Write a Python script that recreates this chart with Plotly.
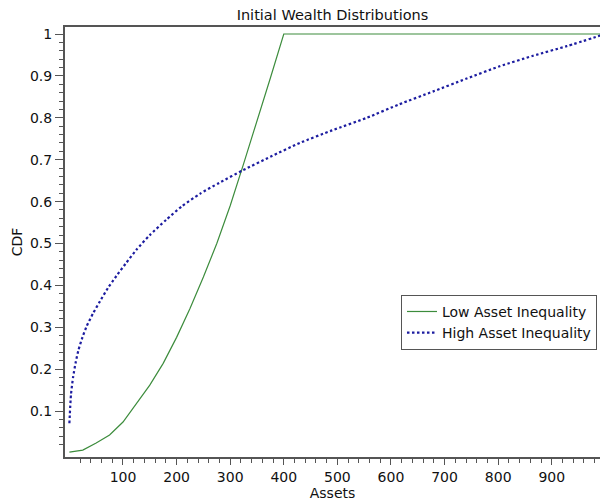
import plotly.graph_objects as go

# Low asset inequality CDF
low_x = [0, 25, 50, 75, 100, 125, 150, 175, 200, 225, 250, 275, 300, 325, 350, 375, 400, 1000]
low_y = [0.002, 0.007, 0.024, 0.043, 0.074, 0.117, 0.162, 0.214, 0.276, 0.345, 0.42, 0.50,
         0.59, 0.69, 0.79, 0.895, 1.0, 1.0]

# High asset inequality CDF
high_x = [0, 3, 7, 12, 17, 24, 32, 44, 57, 72, 88, 105, 125, 150, 181, 210, 244, 280, 324,
          375, 430, 490, 555, 615, 679, 740, 803, 865, 928, 1000]
high_y = [0.071, 0.14, 0.182, 0.218, 0.246, 0.275, 0.302, 0.333, 0.362, 0.394, 0.423, 0.452,
          0.485, 0.52, 0.557, 0.589, 0.619, 0.645, 0.675, 0.707, 0.74, 0.77, 0.80, 0.832,
          0.863, 0.893, 0.923, 0.948, 0.971, 1.0]

x_ticks = [100, 200, 300, 400, 500, 600, 700, 800, 900]
y_ticks = [0.1, 0.2, 0.3, 0.4, 0.5, 0.6, 0.7, 0.8, 0.9, 1]

FONT = "DejaVu Sans"
AX = "#555555"

fig = go.Figure()
fig.add_trace(go.Scatter(x=low_x, y=low_y, mode="lines", name="Low Asset Inequality",
                         line=dict(color="#3c8c3c", width=1.2)))
fig.add_trace(go.Scatter(x=high_x, y=high_y, mode="lines", name="High Asset Inequality",
                         line=dict(color="#1c1ca0", width=2.2, dash="2.5px,2.5px",
                                   shape="spline", smoothing=0.6)))

fig.update_layout(
    width=600, height=502,
    margin=dict(l=65, r=0, t=27, b=45, autoexpand=False),
    paper_bgcolor="white", plot_bgcolor="white",
    font=dict(family=FONT, size=14, color="#111111"),
    title=dict(text="Initial Wealth Distributions", x=0.5, xref="paper", y=0.97, yanchor="middle",
               font=dict(family=FONT, size=14.5, color="#111111")),
    legend=dict(x=0.628, y=0.377, xanchor="left", yanchor="top",
                bgcolor="white", bordercolor=AX, borderwidth=1,
                font=dict(family=FONT, size=14), itemwidth=30, tracegroupgap=2),
    showlegend=True,
)
fig.update_xaxes(
    range=[-8.2, 990], tickmode="array", tickvals=x_ticks, ticktext=[str(v) for v in x_ticks],
    ticks="outside", ticklen=6, tickwidth=1, tickcolor=AX,
    minor=dict(tickmode="array", tickvals=[v for v in range(20, 1000, 20) if v % 100],
               ticks="outside", ticklen=4, tickcolor=AX, tickwidth=1),
    showline=True, linecolor=AX, linewidth=2, mirror=True, showgrid=False, zeroline=False,
    title=dict(text="Assets", standoff=2, font=dict(family=FONT, size=14)),
)
fig.update_yaxes(
    range=[-0.0095, 1.0167], tickmode="array", tickvals=y_ticks, ticktext=[f"{v:g}" for v in y_ticks],
    ticks="outside", ticklen=8, tickwidth=1, tickcolor=AX,
    minor=dict(tickmode="array", tickvals=[round(v * 0.02, 2) for v in range(1, 51) if v % 5],
               ticks="outside", ticklen=4, tickcolor=AX, tickwidth=1),
    showline=True, linecolor=AX, linewidth=2, mirror=False, showgrid=False, zeroline=False,
    title=dict(text="CDF", standoff=4, font=dict(family=FONT, size=14)),
)

fig.write_html("out.html", config={"displayModeBar": False},
               post_script="document.body.style.margin='0';document.body.style.overflow='hidden';")
